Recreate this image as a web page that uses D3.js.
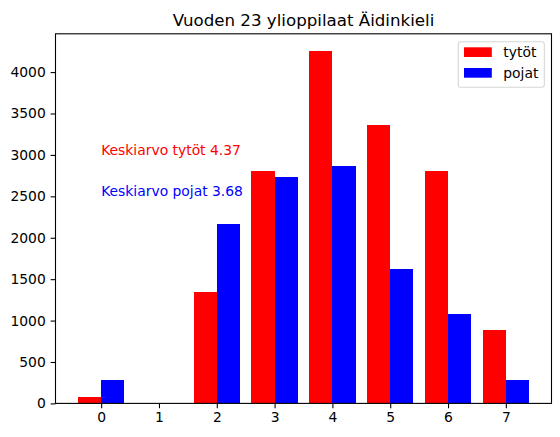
<!DOCTYPE html>
<html>
<head>
<meta charset="utf-8">
<script src="https://cdn.jsdelivr.net/npm/d3@7"></script>
<style>
	body { margin: 0; background: #fff; }
	text { font-family: "DejaVu Sans", sans-serif; }
</style>
</head>
<body>
<div id="chart"></div>
<script>
/**
 * Chart data.
 */
var grades = [0, 1, 2, 3, 4, 5, 6, 7]; // Grade categories on x.
var tytot = [72, 0, 1343, 2802, 4250, 3357, 2802, 884]; // Girls.
var pojat = [281, 0, 2163, 2730, 2862, 1620, 1077, 281]; // Boys.
var yTicks = [0, 500, 1000, 1500, 2000, 2500, 3000, 3500, 4000];
var seriesNames = ["tytöt", "pojat"];
var seriesColors = ["red", "blue"];
var titleText = "Vuoden 23 ylioppilaat Äidinkieli";
var notes = [
	{ text: "Keskiarvo tytöt 4.37", x: 0, y: 3000, color: "red" },
	{ text: "Keskiarvo pojat 3.68", x: 0, y: 2500, color: "blue" }
];

{
	var W = 560,
		H = 437,
		margin = {
			top: 33.8,
			left: 55.5
		},
		width = 496,
		height = 369.6,
		barW = 0.4,
		tickLen = 4.86,
		fontPx = 13.89;

	var svg = d3.select("#chart").append("svg")
		.attr("width", W)
		.attr("height", H);

	var g = svg.append("g")
		.attr("transform", "translate(" + margin.left + "," + margin.top + ")");

	// Data range with matplotlib style 5% padding.
	var xMin = d3.min(grades) - barW,
		xMax = d3.max(grades) + barW,
		xPad = (xMax - xMin) * 0.05;
	var x = d3.scaleLinear()
		.domain([xMin - xPad, xMax + xPad])
		.range([0, width]);

	var yMax = d3.max(tytot.concat(pojat)) * 1.05;
	var y = d3.scaleLinear()
		.domain([0, yMax])
		.range([height, 0]);

	// Bars: girls left of the tick, boys right of it.
	[tytot, pojat].forEach(function (series, si) {
		g.selectAll(".bar" + si)
			.data(series)
			.enter().append("rect")
			.attr("class", "bar" + si)
			.attr("x", function (d, i) {
				return x(grades[i] + (si === 0 ? -barW : 0));
			})
			.attr("width", x(barW) - x(0))
			.attr("y", function (d) {
				return y(d);
			})
			.attr("height", function (d) {
				return height - y(d);
			})
			.attr("shape-rendering", "crispEdges")
			.style("fill", seriesColors[si]);
	});

	// Axes.
	var xAxis = g.append("g")
		.attr("transform", "translate(0," + height + ")")
		.call(d3.axisBottom(x).tickValues(grades).tickFormat(d3.format("d"))
			.tickSizeInner(tickLen).tickSizeOuter(0).tickPadding(tickLen - 1));
	var yAxis = g.append("g")
		.call(d3.axisLeft(y).tickValues(yTicks).tickFormat(d3.format("d"))
			.tickSizeInner(tickLen).tickSizeOuter(0).tickPadding(tickLen));
	[xAxis, yAxis].forEach(function (ax) {
		ax.select(".domain").remove();
		ax.selectAll("line").attr("stroke", "#000").attr("stroke-width", 1.1);
		ax.selectAll("text")
			.attr("fill", "#000")
			.style("font-size", fontPx + "px")
			.style("font-family", "'DejaVu Sans', sans-serif");
	});

	// Frame.
	g.append("rect")
		.attr("width", width)
		.attr("height", height)
		.attr("fill", "none")
		.attr("stroke", "#000")
		.attr("stroke-width", 1.1);

	// Mean annotations.
	g.selectAll(".note")
		.data(notes)
		.enter().append("text")
		.attr("class", "note")
		.attr("x", function (d) { return x(d.x); })
		.attr("y", function (d) { return y(d.y); })
		.style("font-size", fontPx + "px")
		.style("fill", function (d) { return d.color; })
		.text(function (d) { return d.text; });

	// Title.
	svg.append("text")
		.attr("x", margin.left + width / 2)
		.attr("y", margin.top - 8.3)
		.attr("text-anchor", "middle")
		.style("font-size", "16.67px")
		.text(titleText);

	// Legend.
	var lg = svg.append("g")
		.attr("transform", "translate(458.3,41.7)");
	lg.append("rect")
		.attr("width", 86)
		.attr("height", 45.6)
		.attr("rx", 2.5)
		.attr("fill", "#fff")
		.attr("fill-opacity", 0.8)
		.attr("stroke", "#d6d6d6")
		.attr("stroke-width", 1.1);
	var item = lg.selectAll(".item")
		.data(seriesNames)
		.enter().append("g")
		.attr("transform", function (d, i) {
			return "translate(5.7," + (5.6 + i * 20.7) + ")";
		});
	item.append("rect")
		.attr("width", 27.8)
		.attr("height", 9.7)
		.style("fill", function (d, i) { return seriesColors[i]; });
	item.append("text")
		.attr("x", 39.3)
		.attr("y", 9.9)
		.style("font-size", fontPx + "px")
		.text(function (d) { return d; });
}
</script>
</body>
</html>
